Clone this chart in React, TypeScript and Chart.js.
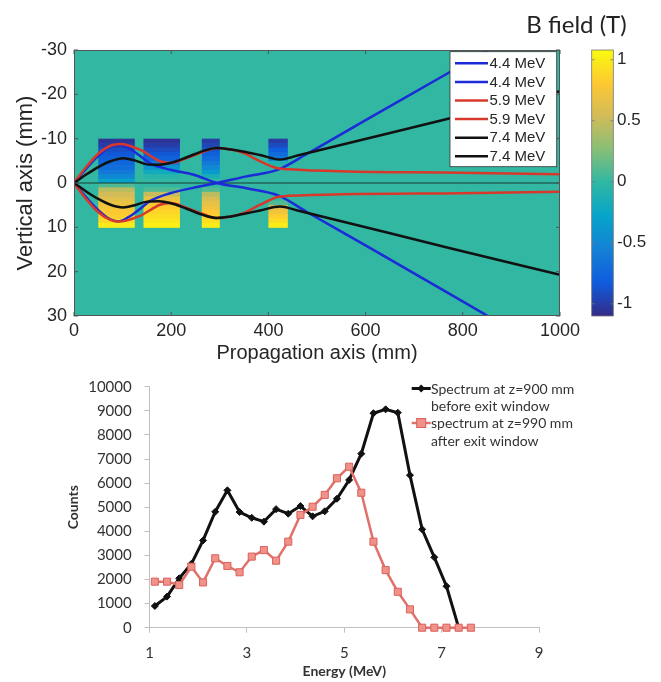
import React, { useEffect, useRef } from "react";
import { Chart, registerables } from "chart.js";

Chart.register(...registerables);

// ================= Top panel: electron trajectories over B field map =================
const e44aX = [0, 20, 45, 70, 91, 112, 135, 156, 198, 245, 294, 355, 420, 480, 616, 850];
const e44aY = [0, -2.6, -5.6, -7.9, -8.65, -7.9, -6.2, -4.5, -3.0, -1.9, 0, 1.2, 2.8, 6.6, 15.1, 29.9];
const e44bX = [0, 20, 45, 70, 91, 112, 135, 156, 198, 245, 294, 355, 420, 480, 602, 850];
const e44bY = [0, 2.6, 5.6, 7.9, 8.65, 7.7, 5.9, 4.1, 2.3, 1.1, 0, -1.5, -3.0, -6.6, -14.3, -29.8];
const e59aX = [0, 25, 50, 75, 95, 136, 177, 198, 232, 265, 294, 320, 348, 383, 417, 440, 794, 1000];
const e59aY = [0, -3.6, -6.6, -8.4, -8.8, -7.5, -4.9, -4.5, -5.6, -7.0, -7.9, -7.6, -6.8, -4.9, -3.4, -3.1, -2.3, -2.0];
const e59bX = [0, 25, 50, 75, 95, 136, 177, 198, 232, 265, 294, 320, 348, 383, 417, 440, 794, 1000];
const e59bY = [0, 3.6, 6.6, 8.3, 8.7, 7.4, 4.9, 4.5, 5.6, 7.0, 7.9, 7.6, 6.8, 4.9, 3.2, 2.9, 2.3, 2.0];
const e74aX = [0, 25, 50, 75, 101, 125, 150, 175, 198, 232, 265, 294, 320, 348, 383, 424, 460, 774, 1000];
const e74aY = [0, -1.9, -3.6, -4.9, -5.6, -5.1, -4.2, -4.1, -4.5, -5.8, -7.2, -7.9, -7.6, -7.1, -6.3, -5.3, -6.2, -14.6, -20.7];
const e74bX = [0, 25, 50, 75, 101, 125, 150, 175, 198, 232, 265, 294, 320, 348, 383, 424, 460, 774, 1000];
const e74bY = [0, 1.9, 3.6, 4.9, 5.5, 5.0, 4.2, 4.1, 4.5, 5.8, 7.2, 7.9, 7.6, 7.0, 6.2, 5.3, 6.2, 14.7, 20.7];

const trajLabels = ["4.4 MeV", "4.4 MeV", "5.9 MeV", "5.9 MeV", "7.4 MeV", "7.4 MeV"];
const trajColors = ["#1c2bd8", "#1c2bd8", "#d8382b", "#d8382b", "#111111", "#111111"];

// magnet blocks (propagation axis, mm)
const magnetStart = [50, 143, 263, 400];
const magnetEnd = [125, 218, 300, 440];
// vertical rows (mm) of the field map
const fieldRowEdges = [-10, -9, -8, -7, -6, -5, -4, -3, -2, -1, 0, 1, 2, 3, 4, 5, 6, 7, 8, 9, 10];
// field values (T) per row, for each magnet block
const fieldBlock1 = [-1.05, -1.0, -0.9, -0.85, -0.8, -0.75, -0.7, -0.62, -0.5, -0.3, 0.1, 0.45, 0.55, 0.62, 0.7, 0.76, 0.8, 0.84, 0.9, 1.0];
const fieldBlock2 = [-1.05, -1.0, -0.92, -0.85, -0.78, -0.62, -0.4, -0.2, -0.05, 0, 0, 0.1, 0.5, 0.68, 0.78, 0.84, 0.88, 0.92, 0.97, 1.02];
const fieldBlock3 = [-1.0, -0.95, -0.85, -0.8, -0.72, -0.62, -0.5, -0.35, -0.15, 0, 0, 0.1, 0.45, 0.58, 0.66, 0.72, 0.8, 0.86, 0.93, 1.0];
const fieldBlock4 = [-1.0, -0.92, -0.82, -0.72, -0.6, -0.1, 0, 0, 0, 0, 0, 0, 0, 0, 0.1, 0.62, 0.74, 0.84, 0.92, 1.0];
const fieldBackground = 0;

const cbTicks = [-1, -0.5, 0, 0.5, 1];
const cbMin = -1.1;
const cbMax = 1.08;
const parulaStops = ["#352a87", "#0f5cdd", "#1481d6", "#06a4ca", "#2eb7a4", "#87bf77", "#d1bb59", "#fec832", "#f9fb0e"];

// ================= Bottom panel: energy spectra =================
const energy900 = [1.11, 1.36, 1.61, 1.86, 2.1, 2.35, 2.6, 2.85, 3.1, 3.35, 3.6, 3.85, 4.1, 4.35, 4.6, 4.85, 5.1, 5.35, 5.6, 5.85, 6.1, 6.35, 6.6, 6.85, 7.1, 7.35];
const counts900 = [900, 1290, 2050, 2650, 3620, 4810, 5700, 4800, 4560, 4400, 4920, 4730, 5050, 4620, 4830, 5350, 6130, 7220, 8900, 9060, 8920, 6330, 4080, 2920, 1720, 0];
const energy990 = [1.11, 1.36, 1.61, 1.86, 2.1, 2.35, 2.6, 2.85, 3.1, 3.35, 3.6, 3.85, 4.1, 4.35, 4.6, 4.85, 5.1, 5.35, 5.6, 5.85, 6.1, 6.35, 6.6, 6.85, 7.1, 7.35, 7.6];
const counts990 = [1910, 1910, 1770, 2530, 1880, 2880, 2560, 2300, 2950, 3220, 2780, 3570, 4680, 5020, 5510, 6200, 6680, 5600, 3570, 2390, 1490, 760, 0, 0, 0, 0, 0];
const legend900 = ["Spectrum at z=900 mm", "before exit window"];
const legend990 = ["spectrum at z=990 mm", "after exit window"];

const SANS = "'Liberation Sans', Arial, Helvetica, sans-serif";
const LATO = "Lato, 'Open Sans', sans-serif";

function zip(xs: number[], ys: number[]) {
  return xs.map((x, i) => ({ x, y: ys[i] }));
}

function hexRgb(h: string) {
  const n = parseInt(h.slice(1), 16);
  return [(n >> 16) & 255, (n >> 8) & 255, n & 255];
}

function fieldColor(v: number) {
  let t = (v - cbMin) / (cbMax - cbMin);
  t = Math.max(0, Math.min(1, t));
  const p = t * (parulaStops.length - 1);
  const i = Math.min(parulaStops.length - 2, Math.floor(p));
  const f = p - i;
  const a = hexRgb(parulaStops[i]);
  const b = hexRgb(parulaStops[i + 1]);
  const c = a.map((av, k) => Math.round(av + (b[k] - av) * f));
  return `rgb(${c[0]},${c[1]},${c[2]})`;
}

// fix axis box sizes and drop the automatic label overhang padding
function fixSize(w: number | null, h: number | null) {
  return (s: any) => {
    if (w !== null) s.width = w;
    if (h !== null) s.height = h;
    s.paddingTop = 0;
    s.paddingBottom = 0;
    s.paddingLeft = 0;
    s.paddingRight = 0;
  };
}

const topPlugin = {
  id: "fieldMap",
  beforeDatasetsDraw(chart: any) {
    const { ctx, chartArea: a, scales } = chart;
    const xs = scales.x;
    const ys = scales.y;
    ctx.save();
    ctx.beginPath();
    ctx.rect(a.left, a.top, a.right - a.left, a.bottom - a.top);
    ctx.clip();
    ctx.fillStyle = fieldColor(fieldBackground);
    ctx.fillRect(a.left, a.top, a.right - a.left, a.bottom - a.top);
    const blocks = [fieldBlock1, fieldBlock2, fieldBlock3, fieldBlock4];
    blocks.forEach((vals, b) => {
      const x0 = xs.getPixelForValue(magnetStart[b]);
      const x1 = xs.getPixelForValue(magnetEnd[b]);
      for (let r = 0; r < vals.length; r++) {
        const y0 = ys.getPixelForValue(fieldRowEdges[r]);
        const y1 = ys.getPixelForValue(fieldRowEdges[r + 1]);
        ctx.fillStyle = fieldColor(vals[r]);
        ctx.fillRect(x0, Math.min(y0, y1), x1 - x0, Math.abs(y1 - y0) + 0.5);
      }
    });
    ctx.restore();
  },
  afterDatasetsDraw(chart: any) {
    const { ctx, chartArea: a, scales } = chart;
    const xs = scales.x;
    const ys = scales.y;
    const cb = scales.cb;
    ctx.save();
    // axes box
    ctx.strokeStyle = "#555";
    ctx.lineWidth = 1;
    ctx.strokeRect(a.left + 0.5, a.top + 0.5, a.right - a.left - 1, a.bottom - a.top - 1);
    // inward tick marks
    ctx.beginPath();
    xs.ticks.forEach((t: any) => {
      const px = xs.getPixelForValue(t.value);
      ctx.moveTo(px, a.bottom);
      ctx.lineTo(px, a.bottom - 4);
      ctx.moveTo(px, a.top);
      ctx.lineTo(px, a.top + 4);
    });
    ys.ticks.forEach((t: any) => {
      const py = ys.getPixelForValue(t.value);
      ctx.moveTo(a.left, py);
      ctx.lineTo(a.left + 4, py);
      ctx.moveTo(a.right, py);
      ctx.lineTo(a.right - 4, py);
    });
    ctx.stroke();

    // legend
    const lx = a.right - 110;
    const ly = a.top + 1.7;
    const lw = 106.7;
    const lh = 115;
    ctx.fillStyle = "#ffffff";
    ctx.fillRect(lx, ly, lw, lh);
    ctx.strokeStyle = "#333";
    ctx.lineWidth = 0.8;
    ctx.strokeRect(lx, ly, lw, lh);
    ctx.font = `15px ${SANS}`;
    ctx.textBaseline = "middle";
    ctx.textAlign = "left";
    trajLabels.forEach((lab, i) => {
      const yy = ly + 11.6 + i * 18.6;
      ctx.strokeStyle = trajColors[i];
      ctx.lineWidth = 2.5;
      ctx.beginPath();
      ctx.moveTo(lx + 5, yy);
      ctx.lineTo(lx + 38, yy);
      ctx.stroke();
      ctx.fillStyle = "#262626";
      ctx.fillText(lab, lx + 39.5, yy + 0.5);
    });

    // colorbar
    const cx0 = a.right + 31.7;
    const cx1 = a.right + 53.3;
    const py0 = cb.getPixelForValue(cbMin);
    const py1 = cb.getPixelForValue(cbMax);
    const grad = ctx.createLinearGradient(0, py0, 0, py1);
    parulaStops.forEach((c, i) => grad.addColorStop(i / (parulaStops.length - 1), c));
    ctx.fillStyle = grad;
    ctx.fillRect(cx0, py1, cx1 - cx0, py0 - py1);
    ctx.strokeStyle = "#777";
    ctx.lineWidth = 0.8;
    ctx.strokeRect(cx0, py1, cx1 - cx0, py0 - py1);
    ctx.beginPath();
    cbTicks.forEach((v) => {
      const py = cb.getPixelForValue(v);
      ctx.moveTo(cx1, py);
      ctx.lineTo(cx1 - 3, py);
      ctx.moveTo(cx0, py);
      ctx.lineTo(cx0 + 3, py);
    });
    ctx.stroke();

    // colorbar title
    ctx.fillStyle = "#222";
    ctx.font = `24px ${LATO}`;
    ctx.textAlign = "center";
    ctx.textBaseline = "middle";
    ctx.fillText("B field (T)", 576.5, 25);
    ctx.restore();
  },
};

const bottomLegendPlugin = {
  id: "spectrumLegend",
  afterDraw(chart: any) {
    const { ctx, chartArea: a } = chart;
    const ds = chart.data.datasets;
    ctx.save();
    ctx.font = `14px ${LATO}`;
    ctx.textBaseline = "middle";
    ctx.textAlign = "left";
    const lx0 = a.right - 127.3;
    const lx1 = a.right - 108.3;
    const tx = a.right - 108;
    const entries = [legend900, legend990];
    entries.forEach((lines, i) => {
      const y = a.top + 1.8 + i * 34.5;
      const d = ds[i];
      ctx.strokeStyle = d.borderColor;
      ctx.lineWidth = d.borderWidth;
      ctx.beginPath();
      ctx.moveTo(lx0, y);
      ctx.lineTo(lx1, y);
      ctx.stroke();
      const mx = (lx0 + lx1) / 2;
      ctx.fillStyle = d.pointBackgroundColor;
      ctx.strokeStyle = d.pointBorderColor;
      ctx.lineWidth = 1;
      if (d.pointStyle === "rect") {
        ctx.fillRect(mx - 4.5, y - 4.5, 9, 9);
        ctx.strokeRect(mx - 4.5, y - 4.5, 9, 9);
      } else {
        ctx.beginPath();
        ctx.moveTo(mx, y - 4);
        ctx.lineTo(mx + 4, y);
        ctx.lineTo(mx, y + 4);
        ctx.lineTo(mx - 4, y);
        ctx.closePath();
        ctx.fill();
      }
      ctx.fillStyle = "#333";
      lines.forEach((t, k) => ctx.fillText(t, tx, y + 0.8 + k * 17.3));
    });
    ctx.restore();
  },
};

export default function App() {
  const topRef = useRef<HTMLCanvasElement>(null);
  const botRef = useRef<HTMLCanvasElement>(null);

  useEffect(() => {
    const trajX = [e44aX, e44bX, e59aX, e59bX, e74aX, e74bX];
    const trajY = [e44aY, e44bY, e59aY, e59bY, e74aY, e74bY];
    const trajOrder = [2, 2, 1, 1, 0, 0];
    const tickColor = "#262626";

    const top = new Chart(topRef.current as HTMLCanvasElement, {
      type: "scatter",
      data: {
        datasets: [
          ...trajLabels.map((lab, i) => ({
            label: lab,
            data: zip(trajX[i], trajY[i]),
            showLine: true,
            borderColor: trajColors[i],
            backgroundColor: trajColors[i],
            borderWidth: 2.5,
            pointRadius: 0,
            cubicInterpolationMode: "monotone" as const,
            order: trajOrder[i],
          })),
          {
            label: "axis",
            data: [
              { x: 0, y: 0 },
              { x: 1000, y: 0 },
            ],
            showLine: true,
            borderColor: "#1a3a33",
            borderWidth: 1,
            pointRadius: 0,
            order: 5,
          },
        ],
      },
      options: {
        responsive: false,
        animation: false,
        devicePixelRatio: 1,
        events: [],
        layout: { autoPadding: false, padding: { top: 50, left: 0, right: 0, bottom: 0 } },
        plugins: { legend: { display: false }, tooltip: { enabled: false } },
        scales: {
          x: {
            type: "linear",
            position: "bottom",
            min: 0,
            max: 1000,
            grid: { display: false, drawTicks: false },
            border: { display: false },
            ticks: {
              stepSize: 200,
              maxRotation: 0,
              padding: 4,
              color: tickColor,
              font: { family: SANS, size: 18 },
              callback: (v: any) => String(v),
            },
            title: {
              display: true,
              text: "Propagation axis (mm)",
              color: tickColor,
              font: { family: SANS, size: 20 },
              padding: { top: 0, bottom: 7 },
            },
            afterFit: fixSize(null, 56),
          },
          y: {
            type: "linear",
            position: "left",
            min: -30,
            max: 30,
            reverse: true,
            grid: { display: false, drawTicks: false },
            border: { display: false },
            ticks: {
              stepSize: 10,
              padding: 7,
              color: tickColor,
              font: { family: SANS, size: 18 },
              callback: (v: any) => String(v),
            },
            title: {
              display: true,
              text: "Vertical axis (mm)",
              color: tickColor,
              font: { family: SANS, size: 22 },
              padding: { top: 13, bottom: 0 },
            },
            afterFit: fixSize(74, null),
          },
          cb: {
            type: "linear",
            position: "right",
            min: cbMin,
            max: cbMax,
            grid: { display: false, drawTicks: false },
            border: { display: false },
            afterBuildTicks: (s: any) => {
              s.ticks = cbTicks.map((v) => ({ value: v }));
            },
            ticks: {
              padding: 57,
              color: tickColor,
              font: { family: SANS, size: 17 },
              callback: (v: any) => String(v),
            },
            afterFit: fixSize(101, null),
          },
        },
      } as any,
      plugins: [topPlugin],
    });

    const axisGray = "#bfbfbf";
    const labelGray = "#333333";
    const bot = new Chart(botRef.current as HTMLCanvasElement, {
      type: "scatter",
      data: {
        datasets: [
          {
            label: legend900.join(" "),
            data: zip(energy900, counts900),
            showLine: true,
            borderColor: "#111111",
            borderWidth: 3,
            pointStyle: "rectRot",
            pointRadius: 3.5,
            pointBackgroundColor: "#111111",
            pointBorderColor: "#111111",
            pointBorderWidth: 1,
            clip: false,
            order: 1,
          },
          {
            label: legend990.join(" "),
            data: zip(energy990, counts990),
            showLine: true,
            borderColor: "#e2706a",
            borderWidth: 2.5,
            pointStyle: "rect",
            pointRadius: 5,
            pointBackgroundColor: "#f0918a",
            pointBorderColor: "#d9625c",
            pointBorderWidth: 1,
            clip: false,
            order: 0,
          },
        ],
      },
      options: {
        responsive: false,
        animation: false,
        devicePixelRatio: 1,
        events: [],
        layout: { autoPadding: false, padding: { top: 14.7, left: 0, right: 122, bottom: 0 } },
        plugins: { legend: { display: false }, tooltip: { enabled: false } },
        scales: {
          x: {
            type: "linear",
            min: 1,
            max: 9,
            grid: { drawOnChartArea: false, drawTicks: true, tickLength: 5, color: axisGray },
            border: { display: true, color: axisGray },
            ticks: {
              stepSize: 2,
              padding: 11,
              maxRotation: 0,
              color: labelGray,
              font: { family: LATO, size: 15 },
              callback: (v: any) => String(v),
            },
            title: {
              display: true,
              text: "Energy (MeV)",
              color: labelGray,
              font: { family: LATO, size: 14, weight: "bold" },
              padding: { top: 0, bottom: 2 },
            },
            afterFit: fixSize(null, 54.3),
          },
          y: {
            type: "linear",
            min: 0,
            max: 10000,
            grid: { drawOnChartArea: false, drawTicks: true, tickLength: 5, color: axisGray },
            border: { display: true, color: axisGray },
            ticks: {
              stepSize: 1000,
              padding: 12.8,
              color: labelGray,
              font: { family: LATO, size: 15 },
              callback: (v: any) => String(v),
            },
            title: {
              display: true,
              text: "Counts",
              color: labelGray,
              font: { family: LATO, size: 14, weight: "bold" },
              padding: { top: 65, bottom: 0 },
            },
            afterFit: fixSize(149.5, null),
          },
        },
      } as any,
      plugins: [bottomLegendPlugin],
    });

    return () => {
      top.destroy();
      bot.destroy();
    };
  }, []);

  return (
    <div style={{ position: "absolute", left: 0, top: 0, width: 661, height: 682, background: "#ffffff" }}>
      <canvas ref={topRef} width={661} height={372} style={{ position: "absolute", left: 0, top: 0 }} />
      <canvas ref={botRef} width={661} height={310} style={{ position: "absolute", left: 0, top: 372 }} />
    </div>
  );
}
